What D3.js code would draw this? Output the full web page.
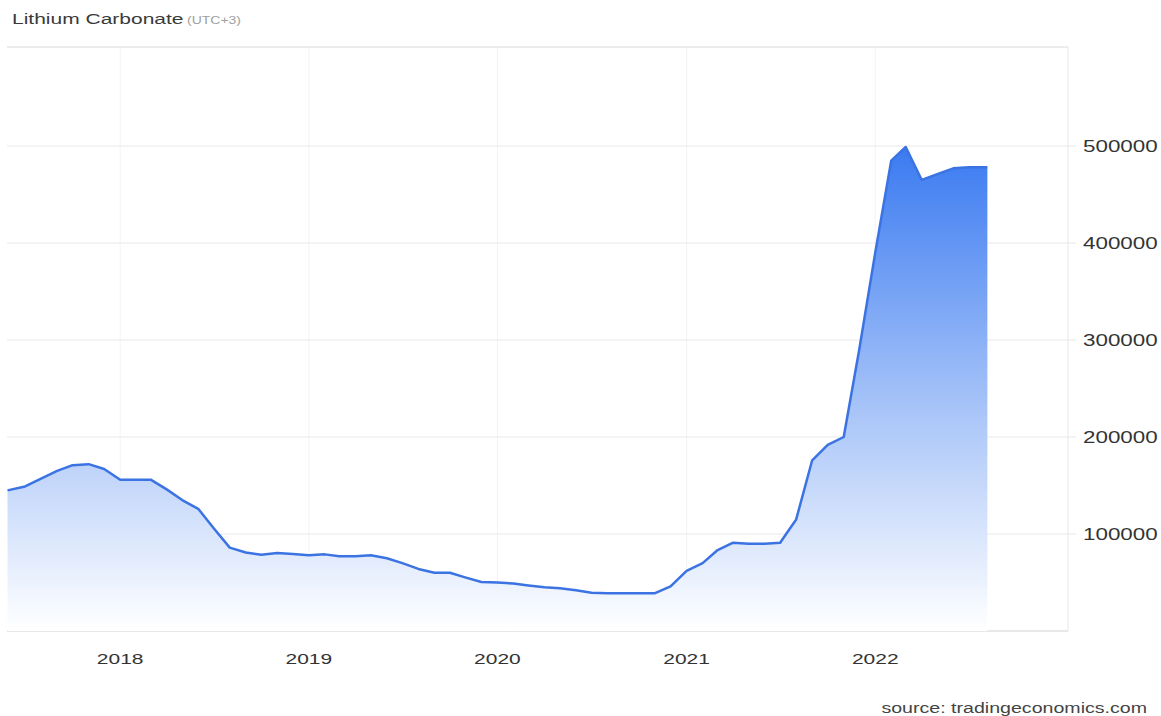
<!DOCTYPE html>
<html>
<head>
<meta charset="utf-8">
<script src="https://cdn.jsdelivr.net/npm/d3@7"></script>
<style>
  body { margin: 0; background: #fff; }
  svg { display: block; font-family: "Liberation Sans", Arial, sans-serif; }
</style>
</head>
<body>
<div id="chart"></div>
<script>
// Monthly price readings (CNY/T)
const months = [
    '2017-05-28', '2017-07-01', '2017-08-01', '2017-09-01', '2017-10-01', '2017-11-01', '2017-12-01',
    '2018-01-01', '2018-02-01', '2018-03-01', '2018-04-01', '2018-05-01', '2018-06-01',
    '2018-07-01', '2018-08-01', '2018-09-01', '2018-10-01', '2018-11-01', '2018-12-01',
    '2019-01-01', '2019-02-01', '2019-03-01', '2019-04-01', '2019-05-01', '2019-06-01',
    '2019-07-01', '2019-08-01', '2019-09-01', '2019-10-01', '2019-11-01', '2019-12-01',
    '2020-01-01', '2020-02-01', '2020-03-01', '2020-04-01', '2020-05-01', '2020-06-01',
    '2020-07-01', '2020-08-01', '2020-09-01', '2020-10-01', '2020-11-01', '2020-12-01',
    '2021-01-01', '2021-02-01', '2021-03-01', '2021-04-01', '2021-05-01', '2021-06-01',
    '2021-07-01', '2021-08-01', '2021-09-01', '2021-10-01', '2021-11-01', '2021-12-01',
    '2022-01-01', '2022-02-01', '2022-03-01', '2022-04-01', '2022-05-01', '2022-06-01',
    '2022-07-01', '2022-08-06'
];
const prices = [
    145000, 149000, 157000, 165000, 171000, 172000, 167000,
    156000, 156000, 156000, 146000, 135000, 126000,
    106000, 86000, 81000, 78500, 80500, 79500,
    78000, 79000, 77000, 77000, 78000, 75000,
    70000, 64000, 60000, 60000, 55000, 50500,
    50000, 49000, 47000, 45000, 44000, 42000,
    39500, 39000, 39000, 39000, 39000, 46000,
    62000, 70000, 83000, 91000, 90000, 90000,
    91000, 115000, 176000, 192000, 200000, 290000,
    390000, 485000, 499000, 465000, 471000, 477000,
    478000, 478000
];
const yearTicks = ['2018-01-01', '2019-01-01', '2020-01-01', '2021-01-01', '2022-01-01'];
const priceTicks = [100000, 200000, 300000, 400000, 500000];

const titleText = 'Lithium Carbonate';
const zoneText = '(UTC+3)';
const sourceText = 'source: tradingeconomics.com';

// the reference is stretched sideways, so text is too
const stretch = 1.4;

const W = 1161, H = 716;
const plotLeft = 7, plotRight = 1068, plotTop = 47, plotBottom = 631;

const parseTime = d3.timeParse('%Y-%m-%d');
const data = months.map((m, i) => ({date: parseTime(m), value: prices[i]}));

const svg = d3.select('#chart')
    .append('svg')
    .attr('width', W)
    .attr('height', H);

const x = d3.scaleTime()
    .domain([parseTime('2017-05-27'), parseTime('2023-01-09')])
    .range([plotLeft, plotRight]);
const y = d3.scaleLinear()
    .domain([0, 600000])
    .range([plotBottom, 49]);

// gradient for the area under the line
const grad = svg.append('defs').append('linearGradient')
    .attr('id', 'fill')
    .attr('gradientUnits', 'userSpaceOnUse')
    .attr('x1', 0).attr('x2', 0)
    .attr('y1', y(500000)).attr('y2', y(0));
grad.append('stop').attr('offset', 0).attr('stop-color', '#3a7af1');
grad.append('stop').attr('offset', 0.55).attr('stop-color', '#a9c5f8');
grad.append('stop').attr('offset', 1).attr('stop-color', '#ffffff');

// frame and grid
svg.append('line')
    .attr('x1', plotLeft).attr('x2', plotRight)
    .attr('y1', plotTop).attr('y2', plotTop)
    .attr('stroke', '#ececec').attr('stroke-width', 2);

svg.selectAll('.vgrid')
    .data(yearTicks)
    .enter()
    .append('line')
    .attr('class', 'vgrid')
    .attr('x1', d => x(parseTime(d))).attr('x2', d => x(parseTime(d)))
    .attr('y1', plotTop).attr('y2', plotBottom)
    .attr('stroke', '#f3f3f3');

svg.selectAll('.hgrid')
    .data(priceTicks)
    .enter()
    .append('line')
    .attr('class', 'hgrid')
    .attr('x1', plotLeft).attr('x2', plotRight + 8)
    .attr('y1', d => y(d)).attr('y2', d => y(d))
    .attr('stroke', '#e8e8e8');

svg.append('line')
    .attr('x1', plotRight).attr('x2', plotRight)
    .attr('y1', plotTop).attr('y2', plotBottom)
    .attr('stroke', '#e8e8e8');

svg.append('line')
    .attr('x1', plotLeft).attr('x2', plotRight)
    .attr('y1', plotBottom).attr('y2', plotBottom)
    .attr('stroke', '#e0e0e0').attr('stroke-width', 1.5);

// area + line
const area = d3.area()
    .x(d => x(d.date))
    .y0(y(0))
    .y1(d => y(d.value));
const line = d3.line()
    .x(d => x(d.date))
    .y(d => y(d.value));

svg.append('path')
    .datum(data)
    .attr('fill', 'url(#fill)')
    .attr('d', area);

svg.append('path')
    .datum(data)
    .attr('fill', 'none')
    .attr('stroke', '#3b73e3')
    .attr('stroke-width', 2.5)
    .attr('stroke-linejoin', 'round')
    .attr('d', line);

// Y axis labels on the right
svg.selectAll('.ylab')
    .data(priceTicks)
    .enter()
    .append('text')
    .attr('class', 'ylab')
    .attr('transform', d => `translate(1083, ${y(d) + 6}) scale(${stretch}, 1)`)
    .attr('font-size', 16)
    .attr('fill', '#333')
    .text(d3.format('d'));

// X axis labels
const timeFormat = d3.timeFormat('%Y');
svg.selectAll('.xlab')
    .data(yearTicks)
    .enter()
    .append('text')
    .attr('class', 'xlab')
    .attr('transform', d => `translate(${x(parseTime(d))}, 664) scale(${stretch}, 1)`)
    .attr('text-anchor', 'middle')
    .attr('font-size', 15)
    .attr('fill', '#333')
    .text(d => timeFormat(parseTime(d)));

// title and source
svg.append('text')
    .attr('transform', `translate(12, 24) scale(${stretch}, 1)`)
    .attr('font-size', 15)
    .attr('fill', '#3a3a3a')
    .text(titleText);

svg.append('text')
    .attr('transform', `translate(187, 24) scale(${stretch}, 1)`)
    .attr('font-size', 10)
    .attr('fill', '#a0a0a0')
    .text(zoneText);

svg.append('text')
    .attr('transform', `translate(1147, 713) scale(${stretch}, 1)`)
    .attr('text-anchor', 'end')
    .attr('font-size', 14)
    .attr('fill', '#444')
    .text(sourceText);
</script>
</body>
</html>
